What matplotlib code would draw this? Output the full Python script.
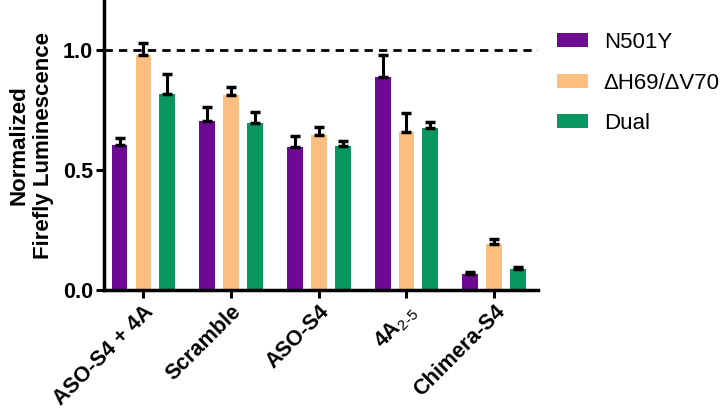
import numpy as np
import matplotlib
matplotlib.use('Agg')
import matplotlib.pyplot as plt

plt.rcParams['font.family'] = ['Liberation Sans', 'DejaVu Sans']
plt.rcParams['mathtext.fontset'] = 'custom'
plt.rcParams['mathtext.rm'] = 'Liberation Sans'

# datos
categorias = ['ASO-S4 + 4A', 'Scramble', 'ASO-S4', r'4A$_{\mathrm{2\text{-}5}}$', 'Chimera-S4']
series = ['N501Y', 'ΔH69/ΔV70', 'Dual']
n501y = [0.604, 0.704, 0.596, 0.888, 0.067]
n501y_err = [0.029, 0.059, 0.046, 0.091, 0.008]
dh69 = [0.979, 0.813, 0.646, 0.658, 0.192]
dh69_err = [0.051, 0.033, 0.033, 0.080, 0.020]
dual = [0.817, 0.696, 0.600, 0.675, 0.087]
dual_err = [0.083, 0.046, 0.021, 0.025, 0.009]
colores = ['#6E0A91', '#FDBF80', '#0A9660']

fig = plt.figure(figsize=(7.27, 4.15), dpi=100)
ax = fig.add_axes([0.143, 0.301, 0.597, 0.699])

x = np.arange(len(categorias))
ancho = 0.18
sep = 0.272
for k, (vals, errs) in enumerate([(n501y, n501y_err), (dh69, dh69_err), (dual, dual_err)]):
    pos = x + (k - 1) * sep
    ax.bar(pos, vals, width=ancho, color=colores[k], label=series[k], zorder=2)
    ax.errorbar(pos, vals, yerr=[np.zeros(len(vals)), errs], fmt='none',
                ecolor='black', elinewidth=2.2, capsize=3.5, capthick=2.5, zorder=3)

# linea de referencia
ax.axhline(1.0, color='black', linestyle=(0, (3, 2.2)), linewidth=2, zorder=1)

ax.set_xlim(-0.45, 4.5)
ax.set_ylim(0, 1.208)
ax.set_yticks([0, 0.5, 1.0])
ax.set_yticklabels(['0.0', '0.5', '1.0'], fontsize=15.5, fontweight='bold')
ax.set_xticks(x)
ax.set_xticklabels(categorias, rotation=45, ha='right', rotation_mode='anchor',
                   fontsize=15.5, fontweight='bold')
ax.set_ylabel('Normalized\nFirefly Luminescence', fontsize=16, fontweight='bold',
              linespacing=1.25, labelpad=6)

for s in ['top', 'right']:
    ax.spines[s].set_visible(False)
for s in ['left', 'bottom']:
    ax.spines[s].set_linewidth(2.5)
ax.tick_params(width=2.2, length=6, direction='out', pad=2)

leg = fig.legend(loc='upper left', bbox_to_anchor=(557 / 727, 1 - 32 / 415),
                 frameon=False, fontsize=16, handlelength=1.4, handleheight=0.59,
                 labelspacing=0.88, handletextpad=0.7, borderaxespad=0, borderpad=0)

fig.savefig('out.png', dpi=100)
